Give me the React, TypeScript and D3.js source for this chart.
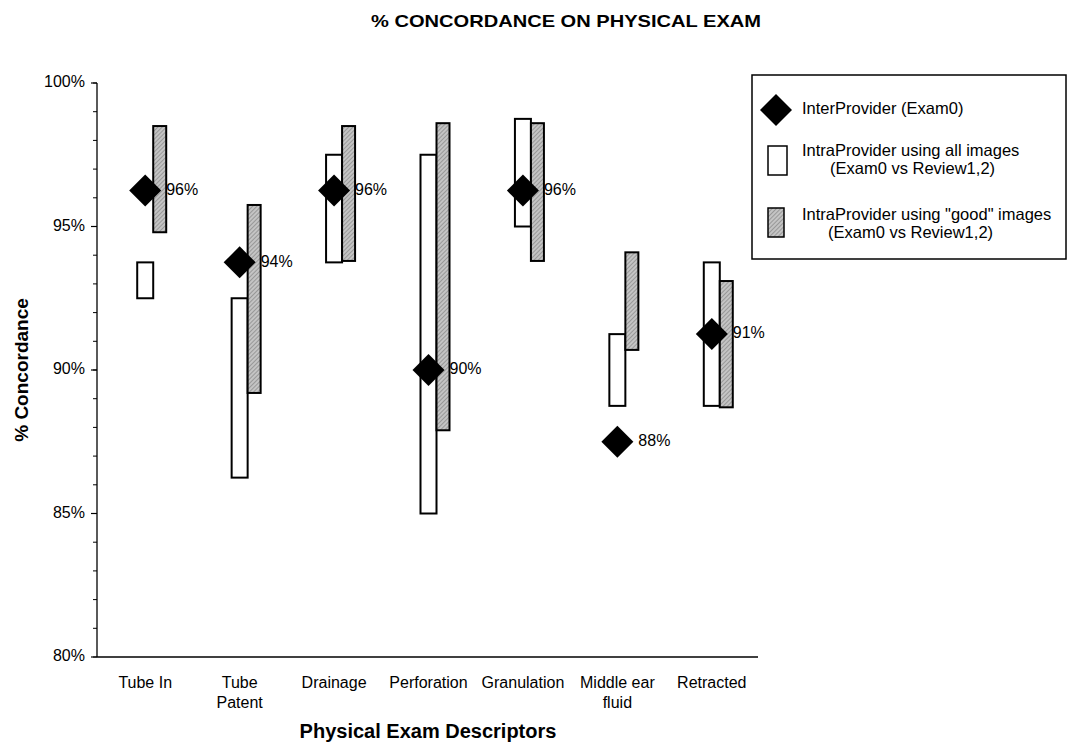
import * as React from "react";
import * as d3 from "d3";

const categories = ["Tube In", "Tube Patent", "Drainage", "Perforation", "Granulation", "Middle ear fluid", "Retracted"];
const categoryLines = [["Tube In"], ["Tube", "Patent"], ["Drainage"], ["Perforation"], ["Granulation"], ["Middle ear", "fluid"], ["Retracted"]];

// InterProvider (Exam0)
const interValues = [96.25, 93.75, 96.25, 90.0, 96.25, 87.5, 91.25];
const interLabels = ["96%", "94%", "96%", "90%", "96%", "88%", "91%"];

// IntraProvider, all images: low / high
const allLow = [92.5, 86.25, 93.75, 85.0, 95.0, 88.75, 88.75];
const allHigh = [93.75, 92.5, 97.5, 97.5, 98.75, 91.25, 93.75];

// IntraProvider, "good" images: low / high
const goodLow = [94.8, 89.2, 93.8, 87.9, 93.8, 90.7, 88.7];
const goodHigh = [98.5, 95.75, 98.5, 98.6, 98.6, 94.1, 93.1];

const yTicks = [80, 85, 90, 95, 100];
const yMinorTicks = d3.range(80, 101, 1);

const FONT = "'Liberation Sans', Arial, Helvetica, sans-serif";

export default function App() {
  const width = 1069;
  const height = 744;

  const x = d3.scaleBand<string>().domain(categories).range([98, 759]).padding(0);
  const y = d3.scaleLinear().domain([80, 100]).range([657, 83]);
  const cx = (c: string) => (x(c) ?? 0) + x.bandwidth() / 2;

  const diamond = d3.symbol().type(d3.symbolSquare).size(512)();

  return (
    <svg
      width={width}
      height={height}
      style={{ position: "absolute", left: 0, top: 0, background: "#fff" }}
      fontFamily={FONT}
    >
      <defs>
        <pattern id="hatch" width="3" height="3" patternUnits="userSpaceOnUse" patternTransform="rotate(45)">
          <rect width="3" height="3" fill="#c4c4c4" />
          <line x1="0" y1="0" x2="0" y2="3" stroke="#7a7a7a" strokeWidth="1.2" />
        </pattern>
      </defs>

      {/* title */}
      <text x={566} y={27} textAnchor="middle" fontSize={17} fontWeight="bold" textLength={390} lengthAdjust="spacingAndGlyphs">
        % CONCORDANCE ON PHYSICAL EXAM
      </text>

      {/* y axis */}
      <line x1={97} x2={97} y1={y(100)} y2={y(80)} stroke="#000" strokeWidth={1.3} />
      {yMinorTicks.map((t) => (
        <line key={"m" + t} x1={93} x2={97} y1={y(t)} y2={y(t)} stroke="#000" strokeWidth={1} />
      ))}
      {yTicks.map((t) => (
        <g key={t}>
          <line x1={91} x2={97} y1={y(t)} y2={y(t)} stroke="#000" strokeWidth={1.2} />
          <text x={85} y={y(t)} textAnchor="end" dominantBaseline="middle" fontSize={16}>
            {t}%
          </text>
        </g>
      ))}
      <text
        transform={`translate(23,${y(90)}) rotate(-90)`}
        textAnchor="middle"
        dominantBaseline="middle"
        fontSize={19}
        fontWeight="bold"
      >
        % Concordance
      </text>

      {/* x axis */}
      <line x1={97} x2={758} y1={y(80)} y2={y(80)} stroke="#000" strokeWidth={1.3} />
      {categories.map((c, i) => (
        <text key={c} x={cx(c)} y={684} textAnchor="middle" dominantBaseline="middle" fontSize={16}>
          {categoryLines[i].map((l, j) => (
            <tspan key={j} x={cx(c)} dy={j === 0 ? 0 : 20}>
              {l}
            </tspan>
          ))}
        </text>
      ))}
      <text x={428} y={733} textAnchor="middle" dominantBaseline="middle" fontSize={20} fontWeight="bold">
        Physical Exam Descriptors
      </text>

      {/* all images bars */}
      {categories.map((c, i) => (
        <rect
          key={"a" + c}
          x={cx(c) - 8}
          y={y(allHigh[i])}
          width={16}
          height={y(allLow[i]) - y(allHigh[i])}
          fill="#fff"
          stroke="#000"
          strokeWidth={2}
        />
      ))}
      {/* good images bars */}
      {categories.map((c, i) => (
        <rect
          key={"g" + c}
          x={cx(c) + 8}
          y={y(goodHigh[i])}
          width={13}
          height={y(goodLow[i]) - y(goodHigh[i])}
          fill="url(#hatch)"
          stroke="#000"
          strokeWidth={2}
        />
      ))}
      {/* interprovider diamonds */}
      {categories.map((c, i) => (
        <g key={"d" + c}>
          <path d={diamond ?? ""} transform={`translate(${cx(c)},${y(interValues[i])}) rotate(45)`} fill="#000" />
          <text x={cx(c) + 21} y={y(interValues[i])} dominantBaseline="middle" fontSize={16}>
            {interLabels[i]}
          </text>
        </g>
      ))}

      {/* legend */}
      <rect x={752} y={75} width={314} height={184} fill="#fff" stroke="#000" strokeWidth={1.5} />
      <path d={diamond ?? ""} transform="translate(776,110) rotate(45)" fill="#000" />
      <text x={802} y={110} dominantBaseline="middle" fontSize={16.5}>
        InterProvider (Exam0)
      </text>
      <rect x={768} y={146} width={19} height={29} fill="#fff" stroke="#000" strokeWidth={1.5} />
      <text x={802} y={152} dominantBaseline="middle" fontSize={16.5}>
        IntraProvider using all images
      </text>
      <text x={830} y={170} dominantBaseline="middle" fontSize={16.5}>
        (Exam0 vs Review1,2)
      </text>
      <rect x={768} y={208} width={16} height={29} fill="url(#hatch)" stroke="#000" strokeWidth={1.5} />
      <text x={802} y={216} dominantBaseline="middle" fontSize={16.5}>
        IntraProvider using "good" images
      </text>
      <text x={828} y={234} dominantBaseline="middle" fontSize={16.5}>
        (Exam0 vs Review1,2)
      </text>
    </svg>
  );
}
